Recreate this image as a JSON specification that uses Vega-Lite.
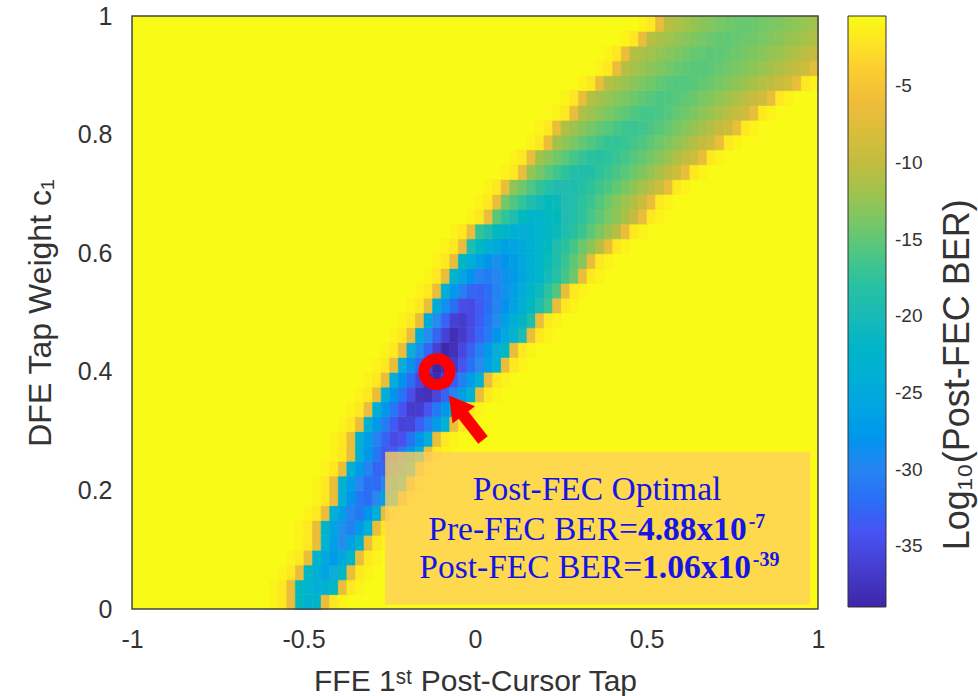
{
"$schema":"https://vega.github.io/schema/vega-lite/v6.json",
"width":686,"height":593,
"autosize":{"type":"none"},
"padding":{"left":132,"top":16,"right":160,"bottom":87},
"background":"white",
"config":{"view":{"stroke":null},"font":"Liberation Sans","axis":{"grid":false,"ticks":false,"domain":false,"labelFlush":false}},
"layer":[
{"data":{"values":[{"x":-1,"x2":1,"y":0,"y2":1,"v":-0.5}]},
 "mark":{"type":"rect"},
 "encoding":{
  "x":{"field":"x","type":"quantitative","scale":{"domain":[-1,1],"nice":false,"zero":false},
   "axis":{"values":[-1,-0.5,0,0.5,1],"labelExpr":"''+datum.value","title":"FFE 1ˢᵗ Post-Cursor Tap","ticks":false,"domain":false,"grid":false,"labelFlush":false,"labelFont":"Liberation Sans","labelFontSize":25,"labelColor":"#333333","labelPadding":18,"titleFont":"Liberation Sans","titleFontSize":30,"titleFontWeight":"normal","titleColor":"#333333","titlePadding":14}},
  "x2":{"field":"x2"},
  "y":{"field":"y","type":"quantitative","scale":{"domain":[0,1],"nice":false,"zero":false},
   "axis":{"values":[0,0.2,0.4,0.6,0.8,1],"labelExpr":"''+datum.value","title":"DFE Tap Weight c₁","ticks":false,"domain":false,"grid":false,"labelFlush":false,"labelFont":"Liberation Sans","labelFontSize":25,"labelColor":"#333333","labelPadding":20,"titleFont":"Liberation Sans","titleFontSize":32,"titleFontWeight":"normal","titleColor":"#333333","titlePadding":20}},
  "y2":{"field":"y2"},
  "color":{"field":"v","type":"quantitative",
   "scale":{"domain":[-38.97,-34.149,-29.328,-24.506,-19.685,-14.864,-10.043,-5.221,-0.4],"range":["#3E26A8","#4852F4","#2C8AF0","#0DADD9","#21BBB4","#62C874","#C2BC40","#F9BD3B","#F9FB15"],"clamp":true},
   "legend":{"type":"gradient","orient":"none","legendX":716,"legendY":0,"direction":"vertical","gradientLength":591,"gradientThickness":38,"gradientStrokeColor":"#333333","gradientStrokeWidth":1,"values":[-35,-30,-25,-20,-15,-10,-5],"labelExpr":"''+datum.value","labelFont":"Liberation Sans","labelFontSize":19,"labelColor":"#333333","labelOffset":9,"labelOverlap":false,"title":null}}
 }},
{"data":{"values":[
{"x":-0.5875,"y":0.0125,"v":-1},{"x":-0.5625,"y":0.0125,"v":-1.8},{"x":-0.5375,"y":0.0125,"v":-6.5},{"x":-0.5125,"y":0.0125,"v":-21.3},{"x":-0.4875,"y":0.0125,"v":-23.1},{"x":-0.4625,"y":0.0125,"v":-22.2},{"x":-0.4375,"y":0.0125,"v":-6.5},{"x":-0.4125,"y":0.0125,"v":-1.8},{"x":-0.3875,"y":0.0125,"v":-1},
{"x":-0.5875,"y":0.0375,"v":-1},{"x":-0.5625,"y":0.0375,"v":-1.8},{"x":-0.5375,"y":0.0375,"v":-6.5},{"x":-0.5125,"y":0.0375,"v":-21.1},{"x":-0.4875,"y":0.0375,"v":-22.9},{"x":-0.4625,"y":0.0375,"v":-24.3},{"x":-0.4375,"y":0.0375,"v":-23.5},{"x":-0.4125,"y":0.0375,"v":-21.4},{"x":-0.3875,"y":0.0375,"v":-6.5},{"x":-0.3625,"y":0.0375,"v":-1.8},{"x":-0.3375,"y":0.0375,"v":-1},
{"x":-0.5625,"y":0.0625,"v":-1},{"x":-0.5375,"y":0.0625,"v":-1.8},{"x":-0.5125,"y":0.0625,"v":-6.5},{"x":-0.4875,"y":0.0625,"v":-21.7},{"x":-0.4625,"y":0.0625,"v":-24.1},{"x":-0.4375,"y":0.0625,"v":-25.9},{"x":-0.4125,"y":0.0625,"v":-24.5},{"x":-0.3875,"y":0.0625,"v":-22},{"x":-0.3625,"y":0.0625,"v":-6.5},{"x":-0.3375,"y":0.0625,"v":-1.8},{"x":-0.3125,"y":0.0625,"v":-1},
{"x":-0.5375,"y":0.0875,"v":-1},{"x":-0.5125,"y":0.0875,"v":-1.8},{"x":-0.4875,"y":0.0875,"v":-6.5},{"x":-0.4625,"y":0.0875,"v":-22.4},{"x":-0.4375,"y":0.0875,"v":-25.4},{"x":-0.4125,"y":0.0875,"v":-27.4},{"x":-0.3875,"y":0.0875,"v":-25.5},{"x":-0.3625,"y":0.0875,"v":-22.6},{"x":-0.3375,"y":0.0875,"v":-6.5},{"x":-0.3125,"y":0.0875,"v":-1.8},{"x":-0.2875,"y":0.0875,"v":-1},
{"x":-0.5125,"y":0.1125,"v":-1},{"x":-0.4875,"y":0.1125,"v":-1.8},{"x":-0.4625,"y":0.1125,"v":-6.5},{"x":-0.4375,"y":0.1125,"v":-23.2},{"x":-0.4125,"y":0.1125,"v":-26.7},{"x":-0.3875,"y":0.1125,"v":-29},{"x":-0.3625,"y":0.1125,"v":-26.5},{"x":-0.3375,"y":0.1125,"v":-23},{"x":-0.3125,"y":0.1125,"v":-6.5},{"x":-0.2875,"y":0.1125,"v":-1.8},{"x":-0.2625,"y":0.1125,"v":-1},
{"x":-0.5125,"y":0.1375,"v":-1},{"x":-0.4875,"y":0.1375,"v":-1.8},{"x":-0.4625,"y":0.1375,"v":-6.5},{"x":-0.4375,"y":0.1375,"v":-22.7},{"x":-0.4125,"y":0.1375,"v":-26},{"x":-0.3875,"y":0.1375,"v":-28.9},{"x":-0.3625,"y":0.1375,"v":-30.3},{"x":-0.3375,"y":0.1375,"v":-27.4},{"x":-0.3125,"y":0.1375,"v":-23.5},{"x":-0.2875,"y":0.1375,"v":-6.5},{"x":-0.2625,"y":0.1375,"v":-1.8},{"x":-0.2375,"y":0.1375,"v":-1},
{"x":-0.4875,"y":0.1625,"v":-1},{"x":-0.4625,"y":0.1625,"v":-1.8},{"x":-0.4375,"y":0.1625,"v":-6.5},{"x":-0.4125,"y":0.1625,"v":-23.6},{"x":-0.3875,"y":0.1625,"v":-27},{"x":-0.3625,"y":0.1625,"v":-30.1},{"x":-0.3375,"y":0.1625,"v":-31},{"x":-0.3125,"y":0.1625,"v":-28},{"x":-0.2875,"y":0.1625,"v":-24.1},{"x":-0.2625,"y":0.1625,"v":-6.5},{"x":-0.2375,"y":0.1625,"v":-1.8},{"x":-0.2125,"y":0.1625,"v":-1},
{"x":-0.4625,"y":0.1875,"v":-1},{"x":-0.4375,"y":0.1875,"v":-1.8},{"x":-0.4125,"y":0.1875,"v":-6.5},{"x":-0.3875,"y":0.1875,"v":-23.9},{"x":-0.3625,"y":0.1875,"v":-28},{"x":-0.3375,"y":0.1875,"v":-31.1},{"x":-0.3125,"y":0.1875,"v":-32},{"x":-0.2875,"y":0.1875,"v":-29.6},{"x":-0.2625,"y":0.1875,"v":-26.7},{"x":-0.2375,"y":0.1875,"v":-23.3},{"x":-0.2125,"y":0.1875,"v":-6.5},{"x":-0.1875,"y":0.1875,"v":-1.8},{"x":-0.1625,"y":0.1875,"v":-1},
{"x":-0.4625,"y":0.2125,"v":-1},{"x":-0.4375,"y":0.2125,"v":-1.8},{"x":-0.4125,"y":0.2125,"v":-6.5},{"x":-0.3875,"y":0.2125,"v":-23.3},{"x":-0.3625,"y":0.2125,"v":-26.7},{"x":-0.3375,"y":0.2125,"v":-29.6},{"x":-0.3125,"y":0.2125,"v":-32.1},{"x":-0.2875,"y":0.2125,"v":-32.3},{"x":-0.2625,"y":0.2125,"v":-29.9},{"x":-0.2375,"y":0.2125,"v":-26.8},{"x":-0.2125,"y":0.2125,"v":-23.4},{"x":-0.1875,"y":0.2125,"v":-6.5},{"x":-0.1625,"y":0.2125,"v":-1.8},{"x":-0.1375,"y":0.2125,"v":-1},
{"x":-0.4375,"y":0.2375,"v":-1},{"x":-0.4125,"y":0.2375,"v":-1.8},{"x":-0.3875,"y":0.2375,"v":-6.5},{"x":-0.3625,"y":0.2375,"v":-23.8},{"x":-0.3375,"y":0.2375,"v":-27.2},{"x":-0.3125,"y":0.2375,"v":-30.1},{"x":-0.2875,"y":0.2375,"v":-32.7},{"x":-0.2625,"y":0.2375,"v":-32.8},{"x":-0.2375,"y":0.2375,"v":-30.3},{"x":-0.2125,"y":0.2375,"v":-27.3},{"x":-0.1875,"y":0.2375,"v":-23.8},{"x":-0.1625,"y":0.2375,"v":-6.5},{"x":-0.1375,"y":0.2375,"v":-1.8},{"x":-0.1125,"y":0.2375,"v":-1},
{"x":-0.4125,"y":0.2625,"v":-1},{"x":-0.3875,"y":0.2625,"v":-1.8},{"x":-0.3625,"y":0.2625,"v":-6.5},{"x":-0.3375,"y":0.2625,"v":-24.1},{"x":-0.3125,"y":0.2625,"v":-27.8},{"x":-0.2875,"y":0.2625,"v":-31},{"x":-0.2625,"y":0.2625,"v":-33.8},{"x":-0.2375,"y":0.2625,"v":-33.6},{"x":-0.2125,"y":0.2625,"v":-30.9},{"x":-0.1875,"y":0.2625,"v":-27.7},{"x":-0.1625,"y":0.2625,"v":-24.1},{"x":-0.1375,"y":0.2625,"v":-6.5},{"x":-0.1125,"y":0.2625,"v":-1.8},{"x":-0.0875,"y":0.2625,"v":-1},
{"x":-0.4125,"y":0.2875,"v":-1},{"x":-0.3875,"y":0.2875,"v":-1.8},{"x":-0.3625,"y":0.2875,"v":-6.5},{"x":-0.3375,"y":0.2875,"v":-23.6},{"x":-0.3125,"y":0.2875,"v":-27},{"x":-0.2875,"y":0.2875,"v":-30.1},{"x":-0.2625,"y":0.2875,"v":-32.9},{"x":-0.2375,"y":0.2875,"v":-34.9},{"x":-0.2125,"y":0.2875,"v":-34.4},{"x":-0.1875,"y":0.2875,"v":-31.6},{"x":-0.1625,"y":0.2875,"v":-28.2},{"x":-0.1375,"y":0.2875,"v":-24.3},{"x":-0.1125,"y":0.2875,"v":-6.5},{"x":-0.0875,"y":0.2875,"v":-1.8},{"x":-0.0625,"y":0.2875,"v":-1},
{"x":-0.3875,"y":0.3125,"v":-1},{"x":-0.3625,"y":0.3125,"v":-1.8},{"x":-0.3375,"y":0.3125,"v":-6.5},{"x":-0.3125,"y":0.3125,"v":-23.8},{"x":-0.2875,"y":0.3125,"v":-27.4},{"x":-0.2625,"y":0.3125,"v":-30.7},{"x":-0.2375,"y":0.3125,"v":-33.7},{"x":-0.2125,"y":0.3125,"v":-35.8},{"x":-0.1875,"y":0.3125,"v":-35.7},{"x":-0.1625,"y":0.3125,"v":-33.4},{"x":-0.1375,"y":0.3125,"v":-30.6},{"x":-0.1125,"y":0.3125,"v":-27.3},{"x":-0.0875,"y":0.3125,"v":-23.8},{"x":-0.0625,"y":0.3125,"v":-6.5},{"x":-0.0375,"y":0.3125,"v":-1.8},{"x":-0.0125,"y":0.3125,"v":-1},
{"x":-0.3625,"y":0.3375,"v":-1},{"x":-0.3375,"y":0.3375,"v":-1.8},{"x":-0.3125,"y":0.3375,"v":-6.5},{"x":-0.2875,"y":0.3375,"v":-24},{"x":-0.2625,"y":0.3375,"v":-27.8},{"x":-0.2375,"y":0.3375,"v":-31.2},{"x":-0.2125,"y":0.3375,"v":-34.2},{"x":-0.1875,"y":0.3375,"v":-36.6},{"x":-0.1625,"y":0.3375,"v":-36.4},{"x":-0.1375,"y":0.3375,"v":-34},{"x":-0.1125,"y":0.3375,"v":-31.1},{"x":-0.0875,"y":0.3375,"v":-27.6},{"x":-0.0625,"y":0.3375,"v":-24},{"x":-0.0375,"y":0.3375,"v":-6.5},{"x":-0.0125,"y":0.3375,"v":-1.8},{"x":0.0125,"y":0.3375,"v":-1},
{"x":-0.3375,"y":0.3625,"v":-1},{"x":-0.3125,"y":0.3625,"v":-1.8},{"x":-0.2875,"y":0.3625,"v":-6.5},{"x":-0.2625,"y":0.3625,"v":-24.2},{"x":-0.2375,"y":0.3625,"v":-28},{"x":-0.2125,"y":0.3625,"v":-31.6},{"x":-0.1875,"y":0.3625,"v":-34.7},{"x":-0.1625,"y":0.3625,"v":-37.3},{"x":-0.1375,"y":0.3625,"v":-37.7},{"x":-0.1125,"y":0.3625,"v":-35.5},{"x":-0.0875,"y":0.3625,"v":-32.9},{"x":-0.0625,"y":0.3625,"v":-30},{"x":-0.0375,"y":0.3625,"v":-26.9},{"x":-0.0125,"y":0.3625,"v":-23.5},{"x":0.0125,"y":0.3625,"v":-6.5},{"x":0.0375,"y":0.3625,"v":-1.8},{"x":0.0625,"y":0.3625,"v":-1},
{"x":-0.3125,"y":0.3875,"v":-1},{"x":-0.2875,"y":0.3875,"v":-1.8},{"x":-0.2625,"y":0.3875,"v":-6.5},{"x":-0.2375,"y":0.3875,"v":-24.3},{"x":-0.2125,"y":0.3875,"v":-28.3},{"x":-0.1875,"y":0.3875,"v":-32},{"x":-0.1625,"y":0.3875,"v":-35.2},{"x":-0.1375,"y":0.3875,"v":-37.9},{"x":-0.1125,"y":0.3875,"v":-38.3},{"x":-0.0875,"y":0.3875,"v":-36.2},{"x":-0.0625,"y":0.3875,"v":-33.5},{"x":-0.0375,"y":0.3875,"v":-30.5},{"x":-0.0125,"y":0.3875,"v":-27.1},{"x":0.0125,"y":0.3875,"v":-23.8},{"x":0.0375,"y":0.3875,"v":-6.5},{"x":0.0625,"y":0.3875,"v":-1.8},{"x":0.0875,"y":0.3875,"v":-1},
{"x":-0.2875,"y":0.4125,"v":-1},{"x":-0.2625,"y":0.4125,"v":-1.8},{"x":-0.2375,"y":0.4125,"v":-6.5},{"x":-0.2125,"y":0.4125,"v":-24.4},{"x":-0.1875,"y":0.4125,"v":-28.5},{"x":-0.1625,"y":0.4125,"v":-32.3},{"x":-0.1375,"y":0.4125,"v":-35.6},{"x":-0.1125,"y":0.4125,"v":-38.97},{"x":-0.0875,"y":0.4125,"v":-38.4},{"x":-0.0625,"y":0.4125,"v":-36.7},{"x":-0.0375,"y":0.4125,"v":-34.2},{"x":-0.0125,"y":0.4125,"v":-31.8},{"x":0.0125,"y":0.4125,"v":-29.3},{"x":0.0375,"y":0.4125,"v":-26.5},{"x":0.0625,"y":0.4125,"v":-23.2},{"x":0.0875,"y":0.4125,"v":-6.5},{"x":0.1125,"y":0.4125,"v":-1.8},{"x":0.1375,"y":0.4125,"v":-1},
{"x":-0.2625,"y":0.4375,"v":-1},{"x":-0.2375,"y":0.4375,"v":-1.8},{"x":-0.2125,"y":0.4375,"v":-6.5},{"x":-0.1875,"y":0.4375,"v":-24.5},{"x":-0.1625,"y":0.4375,"v":-28.8},{"x":-0.1375,"y":0.4375,"v":-32.7},{"x":-0.1125,"y":0.4375,"v":-36.1},{"x":-0.0875,"y":0.4375,"v":-38.7},{"x":-0.0625,"y":0.4375,"v":-37.7},{"x":-0.0375,"y":0.4375,"v":-35.4},{"x":-0.0125,"y":0.4375,"v":-33.1},{"x":0.0125,"y":0.4375,"v":-30.4},{"x":0.0375,"y":0.4375,"v":-27.5},{"x":0.0625,"y":0.4375,"v":-24.4},{"x":0.0875,"y":0.4375,"v":-21.5},{"x":0.1125,"y":0.4375,"v":-6.5},{"x":0.1375,"y":0.4375,"v":-1.8},{"x":0.1625,"y":0.4375,"v":-1},
{"x":-0.2375,"y":0.4625,"v":-1},{"x":-0.2125,"y":0.4625,"v":-1.8},{"x":-0.1875,"y":0.4625,"v":-6.5},{"x":-0.1625,"y":0.4625,"v":-24.7},{"x":-0.1375,"y":0.4625,"v":-29},{"x":-0.1125,"y":0.4625,"v":-32.8},{"x":-0.0875,"y":0.4625,"v":-36},{"x":-0.0625,"y":0.4625,"v":-38},{"x":-0.0375,"y":0.4625,"v":-36.7},{"x":-0.0125,"y":0.4625,"v":-34.9},{"x":0.0125,"y":0.4625,"v":-32.8},{"x":0.0375,"y":0.4625,"v":-30.7},{"x":0.0625,"y":0.4625,"v":-28.1},{"x":0.0875,"y":0.4625,"v":-25.4},{"x":0.1125,"y":0.4625,"v":-22.9},{"x":0.1375,"y":0.4625,"v":-19.9},{"x":0.1625,"y":0.4625,"v":-6.5},{"x":0.1875,"y":0.4625,"v":-1.8},{"x":0.2125,"y":0.4625,"v":-1},
{"x":-0.2125,"y":0.4875,"v":-1},{"x":-0.1875,"y":0.4875,"v":-1.8},{"x":-0.1625,"y":0.4875,"v":-6.5},{"x":-0.1375,"y":0.4875,"v":-25.1},{"x":-0.1125,"y":0.4875,"v":-29.2},{"x":-0.0875,"y":0.4875,"v":-32.9},{"x":-0.0625,"y":0.4875,"v":-36},{"x":-0.0375,"y":0.4875,"v":-36.6},{"x":-0.0125,"y":0.4875,"v":-35.1},{"x":0.0125,"y":0.4875,"v":-33.4},{"x":0.0375,"y":0.4875,"v":-31.3},{"x":0.0625,"y":0.4875,"v":-29},{"x":0.0875,"y":0.4875,"v":-26.7},{"x":0.1125,"y":0.4875,"v":-24.2},{"x":0.1375,"y":0.4875,"v":-21.7},{"x":0.1625,"y":0.4875,"v":-18.9},{"x":0.1875,"y":0.4875,"v":-6.5},{"x":0.2125,"y":0.4875,"v":-1.8},{"x":0.2375,"y":0.4875,"v":-1},
{"x":-0.1875,"y":0.5125,"v":-1},{"x":-0.1625,"y":0.5125,"v":-1.8},{"x":-0.1375,"y":0.5125,"v":-6.5},{"x":-0.1125,"y":0.5125,"v":-24.7},{"x":-0.0875,"y":0.5125,"v":-28.6},{"x":-0.0625,"y":0.5125,"v":-31.9},{"x":-0.0375,"y":0.5125,"v":-34.8},{"x":-0.0125,"y":0.5125,"v":-35.1},{"x":0.0125,"y":0.5125,"v":-33.6},{"x":0.0375,"y":0.5125,"v":-32.1},{"x":0.0625,"y":0.5125,"v":-30.1},{"x":0.0875,"y":0.5125,"v":-28.4},{"x":0.1125,"y":0.5125,"v":-26},{"x":0.1375,"y":0.5125,"v":-23.9},{"x":0.1625,"y":0.5125,"v":-21.5},{"x":0.1875,"y":0.5125,"v":-19.2},{"x":0.2125,"y":0.5125,"v":-16.6},{"x":0.2375,"y":0.5125,"v":-6.5},{"x":0.2625,"y":0.5125,"v":-1.8},{"x":0.2875,"y":0.5125,"v":-1},
{"x":-0.1625,"y":0.5375,"v":-1},{"x":-0.1375,"y":0.5375,"v":-1.8},{"x":-0.1125,"y":0.5375,"v":-6.5},{"x":-0.0875,"y":0.5375,"v":-24.1},{"x":-0.0625,"y":0.5375,"v":-27.4},{"x":-0.0375,"y":0.5375,"v":-30.3},{"x":-0.0125,"y":0.5375,"v":-32.7},{"x":0.0125,"y":0.5375,"v":-33.1},{"x":0.0375,"y":0.5375,"v":-31.9},{"x":0.0625,"y":0.5375,"v":-30.2},{"x":0.0875,"y":0.5375,"v":-28.6},{"x":0.1125,"y":0.5375,"v":-26.7},{"x":0.1375,"y":0.5375,"v":-24.7},{"x":0.1625,"y":0.5375,"v":-22.4},{"x":0.1875,"y":0.5375,"v":-20.4},{"x":0.2125,"y":0.5375,"v":-17.9},{"x":0.2375,"y":0.5375,"v":-15.7},{"x":0.2625,"y":0.5375,"v":-6.5},{"x":0.2875,"y":0.5375,"v":-1.8},{"x":0.3125,"y":0.5375,"v":-1},
{"x":-0.1375,"y":0.5625,"v":-1},{"x":-0.1125,"y":0.5625,"v":-1.8},{"x":-0.0875,"y":0.5625,"v":-6.5},{"x":-0.0625,"y":0.5625,"v":-22.9},{"x":-0.0375,"y":0.5625,"v":-25.7},{"x":-0.0125,"y":0.5625,"v":-28},{"x":0.0125,"y":0.5625,"v":-30.1},{"x":0.0375,"y":0.5625,"v":-30.8},{"x":0.0625,"y":0.5625,"v":-29.9},{"x":0.0875,"y":0.5625,"v":-28.5},{"x":0.1125,"y":0.5625,"v":-27.2},{"x":0.1375,"y":0.5625,"v":-25.7},{"x":0.1625,"y":0.5625,"v":-23.8},{"x":0.1875,"y":0.5625,"v":-22.1},{"x":0.2125,"y":0.5625,"v":-20.2},{"x":0.2375,"y":0.5625,"v":-18.3},{"x":0.2625,"y":0.5625,"v":-16.4},{"x":0.2875,"y":0.5625,"v":-14.3},{"x":0.3125,"y":0.5625,"v":-6.5},{"x":0.3375,"y":0.5625,"v":-1.8},{"x":0.3625,"y":0.5625,"v":-1},
{"x":-0.1125,"y":0.5875,"v":-1},{"x":-0.0875,"y":0.5875,"v":-1.8},{"x":-0.0625,"y":0.5875,"v":-6.5},{"x":-0.0375,"y":0.5875,"v":-21.6},{"x":-0.0125,"y":0.5875,"v":-24.1},{"x":0.0125,"y":0.5875,"v":-26.3},{"x":0.0375,"y":0.5875,"v":-28},{"x":0.0625,"y":0.5875,"v":-28.8},{"x":0.0875,"y":0.5875,"v":-28.1},{"x":0.1125,"y":0.5875,"v":-26.8},{"x":0.1375,"y":0.5875,"v":-25.4},{"x":0.1625,"y":0.5875,"v":-24},{"x":0.1875,"y":0.5875,"v":-22.2},{"x":0.2125,"y":0.5875,"v":-20.5},{"x":0.2375,"y":0.5875,"v":-18.9},{"x":0.2625,"y":0.5875,"v":-17.1},{"x":0.2875,"y":0.5875,"v":-15.1},{"x":0.3125,"y":0.5875,"v":-13.2},{"x":0.3375,"y":0.5875,"v":-6.5},{"x":0.3625,"y":0.5875,"v":-1.8},{"x":0.3875,"y":0.5875,"v":-1},
{"x":-0.0875,"y":0.6125,"v":-1},{"x":-0.0625,"y":0.6125,"v":-1.8},{"x":-0.0375,"y":0.6125,"v":-6.5},{"x":-0.0125,"y":0.6125,"v":-19.4},{"x":0.0125,"y":0.6125,"v":-21.5},{"x":0.0375,"y":0.6125,"v":-23.6},{"x":0.0625,"y":0.6125,"v":-25.2},{"x":0.0875,"y":0.6125,"v":-26.5},{"x":0.1125,"y":0.6125,"v":-25.8},{"x":0.1375,"y":0.6125,"v":-24.9},{"x":0.1625,"y":0.6125,"v":-23.7},{"x":0.1875,"y":0.6125,"v":-22.3},{"x":0.2125,"y":0.6125,"v":-21.1},{"x":0.2375,"y":0.6125,"v":-19.3},{"x":0.2625,"y":0.6125,"v":-17.9},{"x":0.2875,"y":0.6125,"v":-16.4},{"x":0.3125,"y":0.6125,"v":-14.4},{"x":0.3375,"y":0.6125,"v":-12.9},{"x":0.3625,"y":0.6125,"v":-10.8},{"x":0.3875,"y":0.6125,"v":-6.5},{"x":0.4125,"y":0.6125,"v":-1.8},{"x":0.4375,"y":0.6125,"v":-1},
{"x":-0.0625,"y":0.6375,"v":-1},{"x":-0.0375,"y":0.6375,"v":-1.8},{"x":-0.0125,"y":0.6375,"v":-6.5},{"x":0.0125,"y":0.6375,"v":-17.2},{"x":0.0375,"y":0.6375,"v":-19.1},{"x":0.0625,"y":0.6375,"v":-20.9},{"x":0.0875,"y":0.6375,"v":-22.5},{"x":0.1125,"y":0.6375,"v":-23.9},{"x":0.1375,"y":0.6375,"v":-24.3},{"x":0.1625,"y":0.6375,"v":-23.7},{"x":0.1875,"y":0.6375,"v":-22.6},{"x":0.2125,"y":0.6375,"v":-21.7},{"x":0.2375,"y":0.6375,"v":-20.5},{"x":0.2625,"y":0.6375,"v":-19.4},{"x":0.2875,"y":0.6375,"v":-18},{"x":0.3125,"y":0.6375,"v":-16.8},{"x":0.3375,"y":0.6375,"v":-15.2},{"x":0.3625,"y":0.6375,"v":-13.7},{"x":0.3875,"y":0.6375,"v":-12.1},{"x":0.4125,"y":0.6375,"v":-10.6},{"x":0.4375,"y":0.6375,"v":-6.5},{"x":0.4625,"y":0.6375,"v":-1.8},{"x":0.4875,"y":0.6375,"v":-1},
{"x":-0.0125,"y":0.6625,"v":-1},{"x":0.0125,"y":0.6625,"v":-1.8},{"x":0.0375,"y":0.6625,"v":-6.5},{"x":0.0625,"y":0.6625,"v":-15.3},{"x":0.0875,"y":0.6625,"v":-17.4},{"x":0.1125,"y":0.6625,"v":-19.4},{"x":0.1375,"y":0.6625,"v":-21},{"x":0.1625,"y":0.6625,"v":-22.2},{"x":0.1875,"y":0.6625,"v":-22.1},{"x":0.2125,"y":0.6625,"v":-21.5},{"x":0.2375,"y":0.6625,"v":-20.7},{"x":0.2625,"y":0.6625,"v":-19.7},{"x":0.2875,"y":0.6625,"v":-18.7},{"x":0.3125,"y":0.6625,"v":-17.6},{"x":0.3375,"y":0.6625,"v":-16.3},{"x":0.3625,"y":0.6625,"v":-15.1},{"x":0.3875,"y":0.6625,"v":-13.8},{"x":0.4125,"y":0.6625,"v":-12.7},{"x":0.4375,"y":0.6625,"v":-11.3},{"x":0.4625,"y":0.6625,"v":-9.9},{"x":0.4875,"y":0.6625,"v":-6.5},{"x":0.5125,"y":0.6625,"v":-1.8},{"x":0.5375,"y":0.6625,"v":-1},
{"x":0.0125,"y":0.6875,"v":-1},{"x":0.0375,"y":0.6875,"v":-1.8},{"x":0.0625,"y":0.6875,"v":-6.5},{"x":0.0875,"y":0.6875,"v":-14},{"x":0.1125,"y":0.6875,"v":-15.8},{"x":0.1375,"y":0.6875,"v":-17.4},{"x":0.1625,"y":0.6875,"v":-18.9},{"x":0.1875,"y":0.6875,"v":-20.2},{"x":0.2125,"y":0.6875,"v":-21},{"x":0.2375,"y":0.6875,"v":-20.5},{"x":0.2625,"y":0.6875,"v":-19.7},{"x":0.2875,"y":0.6875,"v":-18.8},{"x":0.3125,"y":0.6875,"v":-17.8},{"x":0.3375,"y":0.6875,"v":-16.8},{"x":0.3625,"y":0.6875,"v":-15.7},{"x":0.3875,"y":0.6875,"v":-14.5},{"x":0.4125,"y":0.6875,"v":-13.2},{"x":0.4375,"y":0.6875,"v":-12},{"x":0.4625,"y":0.6875,"v":-10.9},{"x":0.4875,"y":0.6875,"v":-9.3},{"x":0.5125,"y":0.6875,"v":-6.5},{"x":0.5375,"y":0.6875,"v":-1.8},{"x":0.5625,"y":0.6875,"v":-1},
{"x":0.0375,"y":0.7125,"v":-1},{"x":0.0625,"y":0.7125,"v":-1.8},{"x":0.0875,"y":0.7125,"v":-6.5},{"x":0.1125,"y":0.7125,"v":-12.7},{"x":0.1375,"y":0.7125,"v":-14.3},{"x":0.1625,"y":0.7125,"v":-15.8},{"x":0.1875,"y":0.7125,"v":-17.2},{"x":0.2125,"y":0.7125,"v":-18.4},{"x":0.2375,"y":0.7125,"v":-19.4},{"x":0.2625,"y":0.7125,"v":-19.7},{"x":0.2875,"y":0.7125,"v":-19.2},{"x":0.3125,"y":0.7125,"v":-18.4},{"x":0.3375,"y":0.7125,"v":-17.7},{"x":0.3625,"y":0.7125,"v":-16.7},{"x":0.3875,"y":0.7125,"v":-15.9},{"x":0.4125,"y":0.7125,"v":-14.8},{"x":0.4375,"y":0.7125,"v":-13.9},{"x":0.4625,"y":0.7125,"v":-12.7},{"x":0.4875,"y":0.7125,"v":-11.5},{"x":0.5125,"y":0.7125,"v":-10.4},{"x":0.5375,"y":0.7125,"v":-9.2},{"x":0.5625,"y":0.7125,"v":-6.5},{"x":0.5875,"y":0.7125,"v":-1.8},{"x":0.6125,"y":0.7125,"v":-1},
{"x":0.0875,"y":0.7375,"v":-1},{"x":0.1125,"y":0.7375,"v":-1.8},{"x":0.1375,"y":0.7375,"v":-6.5},{"x":0.1625,"y":0.7375,"v":-12.5},{"x":0.1875,"y":0.7375,"v":-14},{"x":0.2125,"y":0.7375,"v":-15.3},{"x":0.2375,"y":0.7375,"v":-16.6},{"x":0.2625,"y":0.7375,"v":-17.7},{"x":0.2875,"y":0.7375,"v":-18.6},{"x":0.3125,"y":0.7375,"v":-18.9},{"x":0.3375,"y":0.7375,"v":-18.5},{"x":0.3625,"y":0.7375,"v":-17.7},{"x":0.3875,"y":0.7375,"v":-17},{"x":0.4125,"y":0.7375,"v":-16.1},{"x":0.4375,"y":0.7375,"v":-15.4},{"x":0.4625,"y":0.7375,"v":-14.4},{"x":0.4875,"y":0.7375,"v":-13.5},{"x":0.5125,"y":0.7375,"v":-12.4},{"x":0.5375,"y":0.7375,"v":-11.3},{"x":0.5625,"y":0.7375,"v":-10.2},{"x":0.5875,"y":0.7375,"v":-9.1},{"x":0.6125,"y":0.7375,"v":-6.5},{"x":0.6375,"y":0.7375,"v":-1.8},{"x":0.6625,"y":0.7375,"v":-1},
{"x":0.1125,"y":0.7625,"v":-1},{"x":0.1375,"y":0.7625,"v":-1.8},{"x":0.1625,"y":0.7625,"v":-6.5},{"x":0.1875,"y":0.7625,"v":-11.8},{"x":0.2125,"y":0.7625,"v":-13},{"x":0.2375,"y":0.7625,"v":-14.1},{"x":0.2625,"y":0.7625,"v":-15.2},{"x":0.2875,"y":0.7625,"v":-16.2},{"x":0.3125,"y":0.7625,"v":-17.1},{"x":0.3375,"y":0.7625,"v":-17.9},{"x":0.3625,"y":0.7625,"v":-18.1},{"x":0.3875,"y":0.7625,"v":-17.7},{"x":0.4125,"y":0.7625,"v":-17},{"x":0.4375,"y":0.7625,"v":-16.4},{"x":0.4625,"y":0.7625,"v":-15.5},{"x":0.4875,"y":0.7625,"v":-14.8},{"x":0.5125,"y":0.7625,"v":-13.9},{"x":0.5375,"y":0.7625,"v":-13.1},{"x":0.5625,"y":0.7625,"v":-12.1},{"x":0.5875,"y":0.7625,"v":-11.1},{"x":0.6125,"y":0.7625,"v":-10},{"x":0.6375,"y":0.7625,"v":-9},{"x":0.6625,"y":0.7625,"v":-6.5},{"x":0.6875,"y":0.7625,"v":-1.8},{"x":0.7125,"y":0.7625,"v":-1},
{"x":0.1625,"y":0.7875,"v":-1},{"x":0.1875,"y":0.7875,"v":-1.8},{"x":0.2125,"y":0.7875,"v":-6.5},{"x":0.2375,"y":0.7875,"v":-11.7},{"x":0.2625,"y":0.7875,"v":-12.7},{"x":0.2875,"y":0.7875,"v":-13.8},{"x":0.3125,"y":0.7875,"v":-14.8},{"x":0.3375,"y":0.7875,"v":-15.7},{"x":0.3625,"y":0.7875,"v":-16.5},{"x":0.3875,"y":0.7875,"v":-17.2},{"x":0.4125,"y":0.7875,"v":-17.4},{"x":0.4375,"y":0.7875,"v":-17},{"x":0.4625,"y":0.7875,"v":-16.4},{"x":0.4875,"y":0.7875,"v":-15.8},{"x":0.5125,"y":0.7875,"v":-15},{"x":0.5375,"y":0.7875,"v":-14.4},{"x":0.5625,"y":0.7875,"v":-13.5},{"x":0.5875,"y":0.7875,"v":-12.8},{"x":0.6125,"y":0.7875,"v":-11.8},{"x":0.6375,"y":0.7875,"v":-10.9},{"x":0.6625,"y":0.7875,"v":-9.9},{"x":0.6875,"y":0.7875,"v":-9},{"x":0.7125,"y":0.7875,"v":-6.5},{"x":0.7375,"y":0.7875,"v":-1.8},{"x":0.7625,"y":0.7875,"v":-1},
{"x":0.1875,"y":0.8125,"v":-1},{"x":0.2125,"y":0.8125,"v":-1.8},{"x":0.2375,"y":0.8125,"v":-6.5},{"x":0.2625,"y":0.8125,"v":-11.1},{"x":0.2875,"y":0.8125,"v":-12},{"x":0.3125,"y":0.8125,"v":-13},{"x":0.3375,"y":0.8125,"v":-13.9},{"x":0.3625,"y":0.8125,"v":-14.8},{"x":0.3875,"y":0.8125,"v":-15.5},{"x":0.4125,"y":0.8125,"v":-16.2},{"x":0.4375,"y":0.8125,"v":-16.7},{"x":0.4625,"y":0.8125,"v":-16.9},{"x":0.4875,"y":0.8125,"v":-16.6},{"x":0.5125,"y":0.8125,"v":-15.9},{"x":0.5375,"y":0.8125,"v":-15.4},{"x":0.5625,"y":0.8125,"v":-14.7},{"x":0.5875,"y":0.8125,"v":-14},{"x":0.6125,"y":0.8125,"v":-13.2},{"x":0.6375,"y":0.8125,"v":-12.5},{"x":0.6625,"y":0.8125,"v":-11.6},{"x":0.6875,"y":0.8125,"v":-10.7},{"x":0.7125,"y":0.8125,"v":-9.8},{"x":0.7375,"y":0.8125,"v":-8.9},{"x":0.7625,"y":0.8125,"v":-6.5},{"x":0.7875,"y":0.8125,"v":-1.8},{"x":0.8125,"y":0.8125,"v":-1},
{"x":0.2375,"y":0.8375,"v":-1},{"x":0.2625,"y":0.8375,"v":-1.8},{"x":0.2875,"y":0.8375,"v":-6.5},{"x":0.3125,"y":0.8375,"v":-11},{"x":0.3375,"y":0.8375,"v":-11.9},{"x":0.3625,"y":0.8375,"v":-12.8},{"x":0.3875,"y":0.8375,"v":-13.6},{"x":0.4125,"y":0.8375,"v":-14.5},{"x":0.4375,"y":0.8375,"v":-15.1},{"x":0.4625,"y":0.8375,"v":-15.8},{"x":0.4875,"y":0.8375,"v":-16.3},{"x":0.5125,"y":0.8375,"v":-16.3},{"x":0.5375,"y":0.8375,"v":-16},{"x":0.5625,"y":0.8375,"v":-15.5},{"x":0.5875,"y":0.8375,"v":-14.9},{"x":0.6125,"y":0.8375,"v":-14.2},{"x":0.6375,"y":0.8375,"v":-13.6},{"x":0.6625,"y":0.8375,"v":-12.8},{"x":0.6875,"y":0.8375,"v":-12.2},{"x":0.7125,"y":0.8375,"v":-11.3},{"x":0.7375,"y":0.8375,"v":-10.6},{"x":0.7625,"y":0.8375,"v":-9.7},{"x":0.7875,"y":0.8375,"v":-8.9},{"x":0.8125,"y":0.8375,"v":-6.5},{"x":0.8375,"y":0.8375,"v":-1.8},{"x":0.8625,"y":0.8375,"v":-1},
{"x":0.2625,"y":0.8625,"v":-1},{"x":0.2875,"y":0.8625,"v":-1.8},{"x":0.3125,"y":0.8625,"v":-6.5},{"x":0.3375,"y":0.8625,"v":-10.8},{"x":0.3625,"y":0.8625,"v":-11.6},{"x":0.3875,"y":0.8625,"v":-12.3},{"x":0.4125,"y":0.8625,"v":-13.1},{"x":0.4375,"y":0.8625,"v":-13.7},{"x":0.4625,"y":0.8625,"v":-14.4},{"x":0.4875,"y":0.8625,"v":-15},{"x":0.5125,"y":0.8625,"v":-15.5},{"x":0.5375,"y":0.8625,"v":-15.9},{"x":0.5625,"y":0.8625,"v":-15.8},{"x":0.5875,"y":0.8625,"v":-15.5},{"x":0.6125,"y":0.8625,"v":-15},{"x":0.6375,"y":0.8625,"v":-14.5},{"x":0.6625,"y":0.8625,"v":-13.8},{"x":0.6875,"y":0.8625,"v":-13.3},{"x":0.7125,"y":0.8625,"v":-12.6},{"x":0.7375,"y":0.8625,"v":-11.9},{"x":0.7625,"y":0.8625,"v":-11.1},{"x":0.7875,"y":0.8625,"v":-10.4},{"x":0.8125,"y":0.8625,"v":-9.6},{"x":0.8375,"y":0.8625,"v":-8.8},{"x":0.8625,"y":0.8625,"v":-6.5},{"x":0.8875,"y":0.8625,"v":-1.8},{"x":0.9125,"y":0.8625,"v":-1},
{"x":0.3125,"y":0.8875,"v":-1},{"x":0.3375,"y":0.8875,"v":-1.8},{"x":0.3625,"y":0.8875,"v":-6.5},{"x":0.3875,"y":0.8875,"v":-10.8},{"x":0.4125,"y":0.8875,"v":-11.5},{"x":0.4375,"y":0.8875,"v":-12.3},{"x":0.4625,"y":0.8875,"v":-13},{"x":0.4875,"y":0.8875,"v":-13.7},{"x":0.5125,"y":0.8875,"v":-14.2},{"x":0.5375,"y":0.8875,"v":-14.9},{"x":0.5625,"y":0.8875,"v":-15.3},{"x":0.5875,"y":0.8875,"v":-15.7},{"x":0.6125,"y":0.8875,"v":-15.6},{"x":0.6375,"y":0.8875,"v":-15.3},{"x":0.6625,"y":0.8875,"v":-14.9},{"x":0.6875,"y":0.8875,"v":-14.4},{"x":0.7125,"y":0.8875,"v":-13.9},{"x":0.7375,"y":0.8875,"v":-13.4},{"x":0.7625,"y":0.8875,"v":-12.7},{"x":0.7875,"y":0.8875,"v":-12.1},{"x":0.8125,"y":0.8875,"v":-11.5},{"x":0.8375,"y":0.8875,"v":-10.8},{"x":0.8625,"y":0.8875,"v":-10.2},{"x":0.8875,"y":0.8875,"v":-9.5},{"x":0.9125,"y":0.8875,"v":-8.7},{"x":0.9375,"y":0.8875,"v":-6.5},{"x":0.9625,"y":0.8875,"v":-1.8},{"x":0.9875,"y":0.8875,"v":-1},
{"x":0.3625,"y":0.9125,"v":-1},{"x":0.3875,"y":0.9125,"v":-1.8},{"x":0.4125,"y":0.9125,"v":-6.5},{"x":0.4375,"y":0.9125,"v":-10.8},{"x":0.4625,"y":0.9125,"v":-11.5},{"x":0.4875,"y":0.9125,"v":-12.2},{"x":0.5125,"y":0.9125,"v":-12.9},{"x":0.5375,"y":0.9125,"v":-13.5},{"x":0.5625,"y":0.9125,"v":-14.1},{"x":0.5875,"y":0.9125,"v":-14.7},{"x":0.6125,"y":0.9125,"v":-15.1},{"x":0.6375,"y":0.9125,"v":-15.4},{"x":0.6625,"y":0.9125,"v":-15.3},{"x":0.6875,"y":0.9125,"v":-15},{"x":0.7125,"y":0.9125,"v":-14.7},{"x":0.7375,"y":0.9125,"v":-14.2},{"x":0.7625,"y":0.9125,"v":-13.7},{"x":0.7875,"y":0.9125,"v":-13.3},{"x":0.8125,"y":0.9125,"v":-12.7},{"x":0.8375,"y":0.9125,"v":-12.2},{"x":0.8625,"y":0.9125,"v":-11.6},{"x":0.8875,"y":0.9125,"v":-11},{"x":0.9125,"y":0.9125,"v":-10.5},{"x":0.9375,"y":0.9125,"v":-9.8},{"x":0.9625,"y":0.9125,"v":-9.1},{"x":0.9875,"y":0.9125,"v":-7},
{"x":0.3875,"y":0.9375,"v":-1},{"x":0.4125,"y":0.9375,"v":-1.8},{"x":0.4375,"y":0.9375,"v":-6.5},{"x":0.4625,"y":0.9375,"v":-10.7},{"x":0.4875,"y":0.9375,"v":-11.3},{"x":0.5125,"y":0.9375,"v":-11.9},{"x":0.5375,"y":0.9375,"v":-12.5},{"x":0.5625,"y":0.9375,"v":-13.1},{"x":0.5875,"y":0.9375,"v":-13.6},{"x":0.6125,"y":0.9375,"v":-14.1},{"x":0.6375,"y":0.9375,"v":-14.6},{"x":0.6625,"y":0.9375,"v":-14.9},{"x":0.6875,"y":0.9375,"v":-15.2},{"x":0.7125,"y":0.9375,"v":-15},{"x":0.7375,"y":0.9375,"v":-14.7},{"x":0.7625,"y":0.9375,"v":-14.3},{"x":0.7875,"y":0.9375,"v":-13.9},{"x":0.8125,"y":0.9375,"v":-13.5},{"x":0.8375,"y":0.9375,"v":-13.1},{"x":0.8625,"y":0.9375,"v":-12.5},{"x":0.8875,"y":0.9375,"v":-12.1},{"x":0.9125,"y":0.9375,"v":-11.5},{"x":0.9375,"y":0.9375,"v":-11},{"x":0.9625,"y":0.9375,"v":-10.4},{"x":0.9875,"y":0.9375,"v":-9.8},
{"x":0.4375,"y":0.9625,"v":-1},{"x":0.4625,"y":0.9625,"v":-1.8},{"x":0.4875,"y":0.9625,"v":-6.5},{"x":0.5125,"y":0.9625,"v":-10.6},{"x":0.5375,"y":0.9625,"v":-11.3},{"x":0.5625,"y":0.9625,"v":-11.9},{"x":0.5875,"y":0.9625,"v":-12.5},{"x":0.6125,"y":0.9625,"v":-13},{"x":0.6375,"y":0.9625,"v":-13.5},{"x":0.6625,"y":0.9625,"v":-14},{"x":0.6875,"y":0.9625,"v":-14.4},{"x":0.7125,"y":0.9625,"v":-14.8},{"x":0.7375,"y":0.9625,"v":-15},{"x":0.7625,"y":0.9625,"v":-14.7},{"x":0.7875,"y":0.9625,"v":-14.4},{"x":0.8125,"y":0.9625,"v":-14.1},{"x":0.8375,"y":0.9625,"v":-13.8},{"x":0.8625,"y":0.9625,"v":-13.3},{"x":0.8875,"y":0.9625,"v":-12.9},{"x":0.9125,"y":0.9625,"v":-12.4},{"x":0.9375,"y":0.9625,"v":-12},{"x":0.9625,"y":0.9625,"v":-11.5},{"x":0.9875,"y":0.9625,"v":-11},
{"x":0.4875,"y":0.9875,"v":-1},{"x":0.5125,"y":0.9875,"v":-1.8},{"x":0.5375,"y":0.9875,"v":-6.5},{"x":0.5625,"y":0.9875,"v":-10.6},{"x":0.5875,"y":0.9875,"v":-11.2},{"x":0.6125,"y":0.9875,"v":-11.8},{"x":0.6375,"y":0.9875,"v":-12.4},{"x":0.6625,"y":0.9875,"v":-12.9},{"x":0.6875,"y":0.9875,"v":-13.4},{"x":0.7125,"y":0.9875,"v":-13.9},{"x":0.7375,"y":0.9875,"v":-14.2},{"x":0.7625,"y":0.9875,"v":-14.6},{"x":0.7875,"y":0.9875,"v":-14.6},{"x":0.8125,"y":0.9875,"v":-14.5},{"x":0.8375,"y":0.9875,"v":-14.1},{"x":0.8625,"y":0.9875,"v":-13.8},{"x":0.8875,"y":0.9875,"v":-13.5},{"x":0.9125,"y":0.9875,"v":-13.1},{"x":0.9375,"y":0.9875,"v":-12.7},{"x":0.9625,"y":0.9875,"v":-12.3},{"x":0.9875,"y":0.9875,"v":-11.8}
]},
 "mark":{"type":"rect","binSpacing":0,"strokeWidth":0.6},
 "encoding":{
  "x":{"field":"x","type":"quantitative","bin":{"step":0.025,"extent":[-1,1]}},
  "y":{"field":"y","type":"quantitative","bin":{"step":0.025,"extent":[0,1]}},
  "color":{"field":"v","type":"quantitative"},
  "stroke":{"field":"v","type":"quantitative","legend":null,
   "scale":{"domain":[-38.98,-34.15,-29.33,-24.51,-19.69,-14.86,-10.04,-5.22,-0.41],"range":["#3E26A8","#4852F4","#2C8AF0","#0DADD9","#21BBB4","#62C874","#C2BC40","#F9BD3B","#F9FB15"],"clamp":true}}
 }},
{"data":{"values":[{"x":-0.262,"x2":0.977,"y":0.007,"y2":0.265}]},
 "mark":{"type":"rect","fill":"#FFCF5E","opacity":0.78},
 "encoding":{"x":{"field":"x","type":"quantitative"},"x2":{"field":"x2"},"y":{"field":"y","type":"quantitative"},"y2":{"field":"y2"}}},
{"data":{"values":[{"x":0.356,"y":0.184,"t":"Post-FEC Optimal"}]},
 "mark":{"type":"text","font":"Liberation Serif","fontSize":33.5,"color":"#1515E6","align":"center","baseline":"alphabetic"},
 "encoding":{"x":{"field":"x","type":"quantitative"},"y":{"field":"y","type":"quantitative"},"text":{"field":"t"}}},
{"data":{"values":[{"x":0.475,"y":0.116,"t":"Pre-FEC BER="},{"x":0.487,"y":0.052,"t":"Post-FEC BER="}]},
 "mark":{"type":"text","font":"Liberation Serif","fontSize":33.5,"color":"#1515E6","align":"right","baseline":"alphabetic"},
 "encoding":{"x":{"field":"x","type":"quantitative"},"y":{"field":"y","type":"quantitative"},"text":{"field":"t"}}},
{"data":{"values":[{"x":0.475,"y":0.116,"t":"4.88x10"},{"x":0.487,"y":0.052,"t":"1.06x10"}]},
 "mark":{"type":"text","font":"Liberation Serif","fontSize":33.5,"fontWeight":"bold","color":"#1515E6","align":"left","baseline":"alphabetic"},
 "encoding":{"x":{"field":"x","type":"quantitative"},"y":{"field":"y","type":"quantitative"},"text":{"field":"t"}}},
{"data":{"values":[{"x":0.798,"y":0.137,"t":"-7"},{"x":0.81,"y":0.073,"t":"-39"}]},
 "mark":{"type":"text","font":"Liberation Serif","fontSize":20,"fontWeight":"bold","color":"#1515E6","align":"left","baseline":"alphabetic"},
 "encoding":{"x":{"field":"x","type":"quantitative"},"y":{"field":"y","type":"quantitative"},"text":{"field":"t"}}},
{"data":{"values":[{"x":1.408,"y":0.395,"t":"Log₁₀(Post-FEC BER)"}]},
 "mark":{"type":"text","font":"Liberation Sans","fontSize":36,"color":"#333333","align":"center","baseline":"middle","angle":270},
 "encoding":{"x":{"field":"x","type":"quantitative"},"y":{"field":"y","type":"quantitative"},"text":{"field":"t"}}},
{"data":{"values":[{"x":-0.111,"y":0.4}]},
 "mark":{"type":"point","shape":"circle","filled":false,"stroke":"#FF0000","strokeWidth":11,"size":676,"opacity":1},
 "encoding":{"x":{"field":"x","type":"quantitative"},"y":{"field":"y","type":"quantitative"}}},
{"data":{"values":[{"x":0.0233,"y":0.285,"x2":-0.0496,"y2":0.339}]},
 "mark":{"type":"rule","color":"#FF0000","strokeWidth":12},
 "encoding":{"x":{"field":"x","type":"quantitative"},"y":{"field":"y","type":"quantitative"},"x2":{"field":"x2"},"y2":{"field":"y2"}}},
{"data":{"values":[{"x":-0.0545,"y":0.3438}]},
 "mark":{"type":"point","shape":"triangle-up","filled":true,"color":"#FF0000","size":800,"angle":322.6,"opacity":1},
 "encoding":{"x":{"field":"x","type":"quantitative"},"y":{"field":"y","type":"quantitative"}}},
{"data":{"values":[{"x":-1,"x2":1,"y":0,"y2":1}]},
 "mark":{"type":"rect","filled":false,"stroke":"#444444","strokeWidth":1.5},
 "encoding":{"x":{"field":"x","type":"quantitative"},"x2":{"field":"x2"},"y":{"field":"y","type":"quantitative"},"y2":{"field":"y2"}}}
]
}
